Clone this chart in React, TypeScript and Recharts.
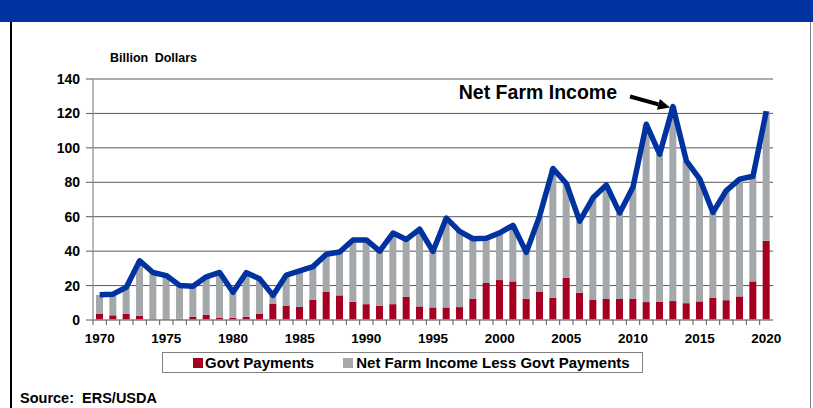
import { Bar, CartesianGrid, ComposedChart, Line, ReferenceDot, XAxis, YAxis } from 'recharts'

// years on the category axis
const YEARS = [
  1970, 1971, 1972, 1973, 1974, 1975, 1976, 1977, 1978, 1979,
  1980, 1981, 1982, 1983, 1984, 1985, 1986, 1987, 1988, 1989,
  1990, 1991, 1992, 1993, 1994, 1995, 1996, 1997, 1998, 1999,
  2000, 2001, 2002, 2003, 2004, 2005, 2006, 2007, 2008, 2009,
  2010, 2011, 2012, 2013, 2014, 2015, 2016, 2017, 2018, 2019,
  2020,
]

// net farm income, billion dollars (blue line)
const NET_FARM_INCOME = [
  14.6, 15.0, 19.0, 34.4, 27.6, 25.8, 20.1, 19.6, 25.1, 27.6,
  16.1, 27.5, 23.9, 14.3, 26.1, 28.5, 31.0, 38.2, 39.5, 46.5,
  46.5, 40.0, 50.5, 46.8, 52.7, 39.9, 59.2, 51.5, 47.2, 47.5,
  50.6, 55.0, 39.3, 60.5, 88.0, 79.3, 57.4, 71.0, 78.4, 62.2,
  77.2, 113.7, 96.3, 124.0, 92.5, 82.0, 62.5, 75.2, 81.8, 83.5,
  121.3,
]

// government payments, billion dollars (red part of the bar)
const GOVT_PAYMENTS = [
  3.5, 2.7, 3.5, 2.4, 0.5, 0.8, 0.7, 1.8, 3.0, 1.4,
  1.3, 1.9, 3.5, 9.3, 8.4, 7.6, 11.8, 16.5, 14.3, 10.6,
  9.2, 8.2, 9.2, 13.4, 7.9, 7.3, 7.3, 7.5, 12.4, 21.5,
  23.2, 22.4, 12.4, 16.5, 13.0, 24.4, 15.8, 11.9, 12.2, 12.2,
  12.4, 10.4, 10.6, 11.0, 9.8, 10.8, 13.0, 11.5, 13.7, 22.4,
  46.0,
]

const Y_TICKS = [0, 20, 40, 60, 80, 100, 120, 140]
const LABELED_YEARS = [1970, 1975, 1980, 1985, 1990, 1995, 2000, 2005, 2010, 2015, 2020]
const PEAK_YEAR = 2013

const FONT = '"Liberation Sans", Arial, Helvetica, sans-serif'
const RED = '#A50021'
const GRAY = '#A5A8AB'
const BLUE = '#0033A0'
const GRID = '#595959'
const AXIS = '#A0A0A0'

const PLOT_LEFT = 93
const PLOT_RIGHT = 773
const BAND = (PLOT_RIGHT - PLOT_LEFT) / YEARS.length

const data = YEARS.map((year, i) => ({
  year,
  govt: GOVT_PAYMENTS[i],
  other: +(NET_FARM_INCOME[i] - GOVT_PAYMENTS[i]).toFixed(1),
  nfi: NET_FARM_INCOME[i],
}))

function YearTick(props: any) {
  const { x, y, payload } = props
  const lineX = x - BAND / 2
  return (
    <g>
      <line x1={lineX} x2={lineX} y1={y - 13} y2={y - 8} stroke={GRID} strokeWidth={1} />
      {LABELED_YEARS.includes(payload.value) && (
        <text
          x={x}
          y={y}
          dy="0.71em"
          textAnchor="middle"
          fontFamily={FONT}
          fontWeight="bold"
          fontSize={13.5}
          fill="#000"
        >
          {payload.value}
        </text>
      )}
    </g>
  )
}

// "Net Farm Income" label with arrow pointing to the peak
function PeakLabel(props: any) {
  const { cx, cy } = props
  const tipX = cx - 3
  const tipY = cy + 1
  const tailX = cx - 43
  const tailY = cy - 10
  const len = Math.hypot(tipX - tailX, tipY - tailY)
  const dx = (tipX - tailX) / len
  const dy = (tipY - tailY) / len
  const bx = tipX - dx * 12
  const by = tipY - dy * 12
  const hw = 5.5
  return (
    <g>
      <text
        x={cx - 56}
        y={cy - 8}
        textAnchor="end"
        fontFamily={FONT}
        fontWeight="bold"
        fontSize={19.5}
        fill="#000"
      >
        Net Farm Income
      </text>
      <line x1={tailX} y1={tailY} x2={bx} y2={by} stroke="#000" strokeWidth={4} />
      <polygon
        points={`${tipX},${tipY} ${bx - dy * hw},${by + dx * hw} ${bx + dy * hw},${by - dx * hw}`}
        fill="#000"
      />
    </g>
  )
}

export default function App() {
  const peakValue = NET_FARM_INCOME[YEARS.indexOf(PEAK_YEAR)]

  return (
    <div
      style={{
        position: 'absolute',
        left: 0,
        top: 0,
        width: 813,
        height: 408,
        overflow: 'hidden',
        background: '#fff',
        fontFamily: FONT,
      }}
    >
      <div style={{ position: 'absolute', left: 0, top: 0, width: 813, height: 22, background: BLUE }} />
      <div style={{ position: 'absolute', left: 10, top: 22, width: 2, height: 386, background: '#000' }} />
      <div style={{ position: 'absolute', left: 810, top: 22, width: 1, height: 386, background: '#808080' }} />

      <div
        style={{
          position: 'absolute',
          left: 110,
          top: 52,
          fontSize: 12.5,
          lineHeight: '12px',
          fontWeight: 'bold',
          wordSpacing: 3,
          whiteSpace: 'nowrap',
        }}
      >
        Billion Dollars
      </div>

      <div style={{ position: 'absolute', left: 0, top: 0 }}>
        <ComposedChart
          width={813}
          height={345}
          data={data}
          margin={{ top: 79, right: 813 - PLOT_RIGHT, bottom: 0, left: 0 }}
          barSize={7}
        >
          <CartesianGrid vertical={false} stroke={GRID} strokeWidth={1} />
          <XAxis
            dataKey="year"
            height={25}
            interval={0}
            tickLine={false}
            tickSize={5}
            tickMargin={8}
            axisLine={{ stroke: AXIS, strokeWidth: 1.5 }}
            tick={<YearTick />}
          />
          <YAxis
            width={PLOT_LEFT}
            domain={[0, 140]}
            ticks={Y_TICKS}
            interval={0}
            tickSize={7}
            tickMargin={6}
            tickLine={{ stroke: GRID }}
            axisLine={{ stroke: AXIS, strokeWidth: 1.5 }}
            tick={{ fontFamily: FONT, fontWeight: 'bold', fontSize: 14, fill: '#000' }}
          />
          <YAxis
            yAxisId="right"
            orientation="right"
            width={0}
            domain={[0, 140]}
            tick={false}
            tickLine={false}
            axisLine={{ stroke: AXIS, strokeWidth: 1.5 }}
          />
          <Bar dataKey="govt" stackId="nfi" fill={RED} isAnimationActive={false} />
          <Bar dataKey="other" stackId="nfi" fill={GRAY} isAnimationActive={false} />
          <Line
            type="linear"
            dataKey="nfi"
            stroke={BLUE}
            strokeWidth={5.5}
            strokeLinejoin="round"
            dot={false}
            activeDot={false}
            isAnimationActive={false}
          />
          <ReferenceDot x={PEAK_YEAR} y={peakValue} shape={<PeakLabel />} />
        </ComposedChart>
      </div>

      <div
        style={{
          position: 'absolute',
          left: 162,
          top: 352,
          width: 481,
          height: 21,
          boxSizing: 'border-box',
          border: '1px solid #808080',
          display: 'flex',
          alignItems: 'center',
          paddingLeft: 30,
          fontSize: 15,
          fontWeight: 'bold',
          whiteSpace: 'nowrap',
        }}
      >
        <span style={{ width: 10, height: 10, background: RED, marginRight: 2 }} />
        <span style={{ marginRight: 29 }}>Govt Payments</span>
        <span style={{ width: 10, height: 10, background: GRAY, marginRight: 3 }} />
        <span>Net Farm Income Less Govt Payments</span>
      </div>

      <div
        style={{
          position: 'absolute',
          left: 20,
          top: 391,
          fontSize: 14.5,
          lineHeight: '14.5px',
          fontWeight: 'bold',
          whiteSpace: 'pre',
        }}
      >
        {'Source:  ERS/USDA'}
      </div>
    </div>
  )
}
